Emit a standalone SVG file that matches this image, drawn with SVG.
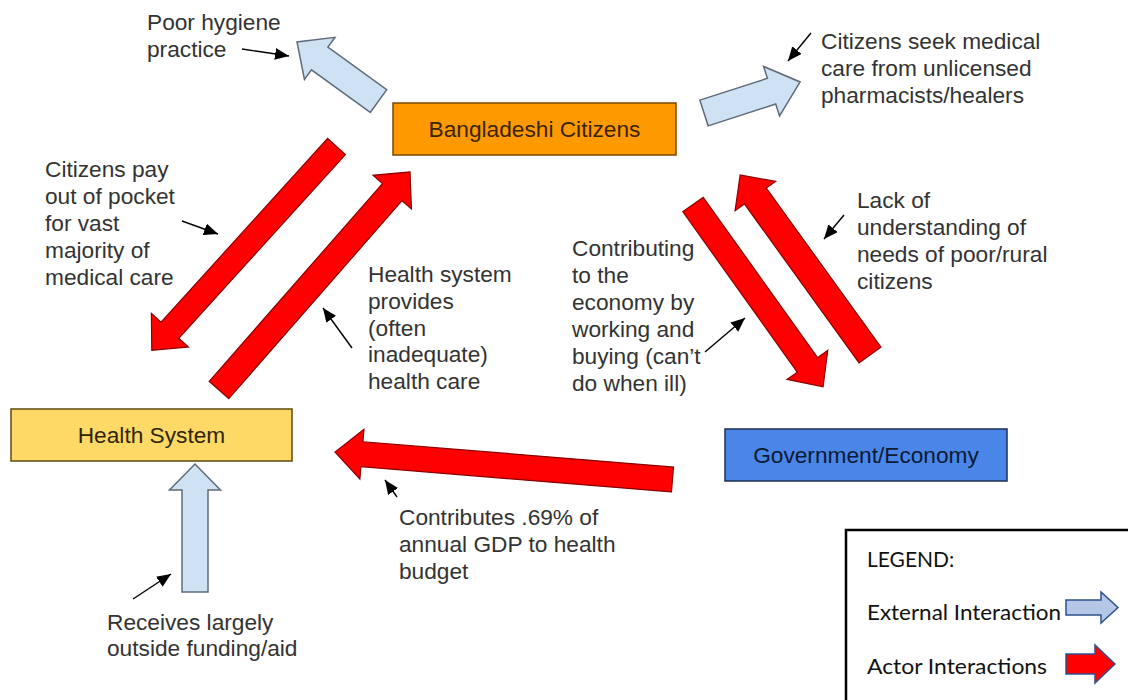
<svg xmlns="http://www.w3.org/2000/svg" width="1128" height="700" viewBox="0 0 1128 700">
  <defs>
    <marker id="ptr" markerUnits="userSpaceOnUse" markerWidth="15" markerHeight="13" refX="14" refY="6" orient="auto">
      <path d="M0,0 L14,6 L0,12 Z" fill="#000"/>
    </marker>
    <style>
      .lbl { font-family: "Liberation Sans", Arial, sans-serif; font-size: 22.7px; fill: #333; }
      .node-text { font-family: "Liberation Sans", Arial, sans-serif; font-size: 22.7px; text-anchor: middle; }
      .ext { fill: #cfe2f3; stroke: #5f6b7a; stroke-width: 1.5; stroke-linejoin: miter; }
      .actor { fill: #ff0000; stroke: #8a0000; stroke-width: 1.2; stroke-linejoin: miter; }
      .pointer { stroke: #000; stroke-width: 1.4; fill: none; marker-end: url(#ptr); }
      .legend-text { font-family: Lato, "Open Sans", sans-serif; font-size: 21px; fill: #111; }
    </style>
  </defs>

  <rect width="1128" height="700" fill="#fff"/>

  <!-- connectors: block arrows between actors and to the outside -->
  <g id="connectors">
    <!-- external interactions -->
    <path id="hygiene" class="ext" transform="translate(378.5,101) rotate(215.9)" d="M0,-14 H72.6 V-26 L100.6,0 L72.6,26 V14 H0 Z"/>
    <path id="unlicensed-care" class="ext" transform="translate(704,113) rotate(-17.9)" d="M0,-13.5 H71 V-26 L101,0 L71,26 V13.5 H0 Z"/>
    <path id="outside-funding" class="ext" transform="translate(195,592) rotate(-90)" d="M0,-13 H102 V-25.5 L128,0 L102,25.5 V13 H0 Z"/>
    <!-- actor interactions -->
    <path id="citizens-to-health" class="actor" transform="translate(336.5,146.5) rotate(132.2)" d="M0,-12 H248 V-25 L275,0 L248,25 V12 H0 Z"/>
    <path id="health-to-citizens" class="actor" transform="translate(219,390) rotate(-48.8)" d="M0,-13 H263 V-25.5 L290,0 L263,25.5 V13 H0 Z"/>
    <path id="citizens-to-gov" class="actor" transform="translate(693,204.5) rotate(54.5)" d="M0,-12.5 H197 V-25 L224,0 L197,25 V12.5 H0 Z"/>
    <path id="gov-to-citizens" class="actor" transform="translate(870,355) rotate(-125.8)" d="M0,-13.5 H196 V-25 L222,0 L196,25 V13.5 H0 Z"/>
    <path id="gov-to-health" class="actor" transform="translate(672.5,479.5) rotate(184.66)" d="M0,-12.5 H311.6 V-25 L338.6,0 L311.6,25 V12.5 H0 Z"/>
  </g>

  <!-- actors -->
  <g id="node-citizens">
    <rect x="393" y="103" width="283" height="52" fill="#ff9900" stroke="#7a4a00" stroke-width="1.5"/>
    <text class="node-text" x="534.5" y="137" fill="#3a2400">Bangladeshi Citizens</text>
  </g>
  <g id="node-health">
    <rect x="11" y="409" width="281" height="52" fill="#ffd966" stroke="#5c4a10" stroke-width="1.5"/>
    <text class="node-text" x="151.5" y="443" fill="#2e2508">Health System</text>
  </g>
  <g id="node-government">
    <rect x="725" y="429" width="282" height="52" fill="#4a86e8" stroke="#1c2f55" stroke-width="1.5"/>
    <text class="node-text" x="866" y="463" fill="#0d1a33">Government/Economy</text>
  </g>

  <!-- annotation labels -->
  <g id="labels">
    <text class="lbl" x="147" y="30">Poor hygiene</text>
    <text class="lbl" x="147" y="57">practice</text>

    <text class="lbl" x="821" y="49">Citizens seek medical</text>
    <text class="lbl" x="821" y="76">care from unlicensed</text>
    <text class="lbl" x="821" y="103">pharmacists/healers</text>

    <text class="lbl" x="45" y="177">Citizens pay</text>
    <text class="lbl" x="45" y="204">out of pocket</text>
    <text class="lbl" x="45" y="231">for vast</text>
    <text class="lbl" x="45" y="258">majority of</text>
    <text class="lbl" x="45" y="285">medical care</text>

    <text class="lbl" x="368" y="282">Health system</text>
    <text class="lbl" x="368" y="309">provides</text>
    <text class="lbl" x="368" y="336">(often</text>
    <text class="lbl" x="368" y="362">inadequate)</text>
    <text class="lbl" x="368" y="389">health care</text>

    <text class="lbl" x="857" y="208">Lack of</text>
    <text class="lbl" x="857" y="235">understanding of</text>
    <text class="lbl" x="857" y="262">needs of poor/rural</text>
    <text class="lbl" x="857" y="289">citizens</text>

    <text class="lbl" x="572" y="256">Contributing</text>
    <text class="lbl" x="572" y="283">to the</text>
    <text class="lbl" x="572" y="310">economy by</text>
    <text class="lbl" x="572" y="337">working and</text>
    <text class="lbl" x="572" y="364">buying (can’t</text>
    <text class="lbl" x="572" y="391">do when ill)</text>

    <text class="lbl" x="399" y="525">Contributes .69% of</text>
    <text class="lbl" x="399" y="552">annual GDP to health</text>
    <text class="lbl" x="399" y="579">budget</text>

    <text class="lbl" x="107" y="630">Receives largely</text>
    <text class="lbl" x="107" y="656">outside funding/aid</text>
  </g>

  <!-- pointers from labels to arrows -->
  <g id="pointers">
    <line class="pointer" x1="242" y1="49" x2="289" y2="56"/>
    <line class="pointer" x1="182" y1="221" x2="218" y2="234"/>
    <line class="pointer" x1="352" y1="348" x2="323" y2="308"/>
    <line class="pointer" x1="811" y1="33" x2="788" y2="61"/>
    <line class="pointer" x1="844" y1="215" x2="824" y2="239"/>
    <line class="pointer" x1="705" y1="352" x2="745" y2="318"/>
    <line class="pointer" x1="397" y1="497" x2="385" y2="480"/>
    <line class="pointer" x1="133" y1="599" x2="171" y2="574"/>
  </g>

  <!-- legend -->
  <g id="legend">
    <rect x="846" y="530" width="300" height="200" fill="#fff" stroke="#000" stroke-width="2.5"/>
    <text class="legend-text" x="867" y="567">LEGEND:</text>
    <text class="legend-text" x="867" y="620" textLength="194" lengthAdjust="spacingAndGlyphs">External Interaction</text>
    <text class="legend-text" x="867" y="674" textLength="180" lengthAdjust="spacingAndGlyphs">Actor Interactions</text>
    <path d="M1066,600 H1101 V592 L1118,607.5 L1101,623 V615 H1066 Z" fill="#b4c7e7" stroke="#2f528f" stroke-width="1.5"/>
    <path d="M1066,654 H1095 V645 L1115,664 L1095,683 V674 H1066 Z" fill="#ff0000" stroke="#2f528f" stroke-width="1.5"/>
  </g>
</svg>
